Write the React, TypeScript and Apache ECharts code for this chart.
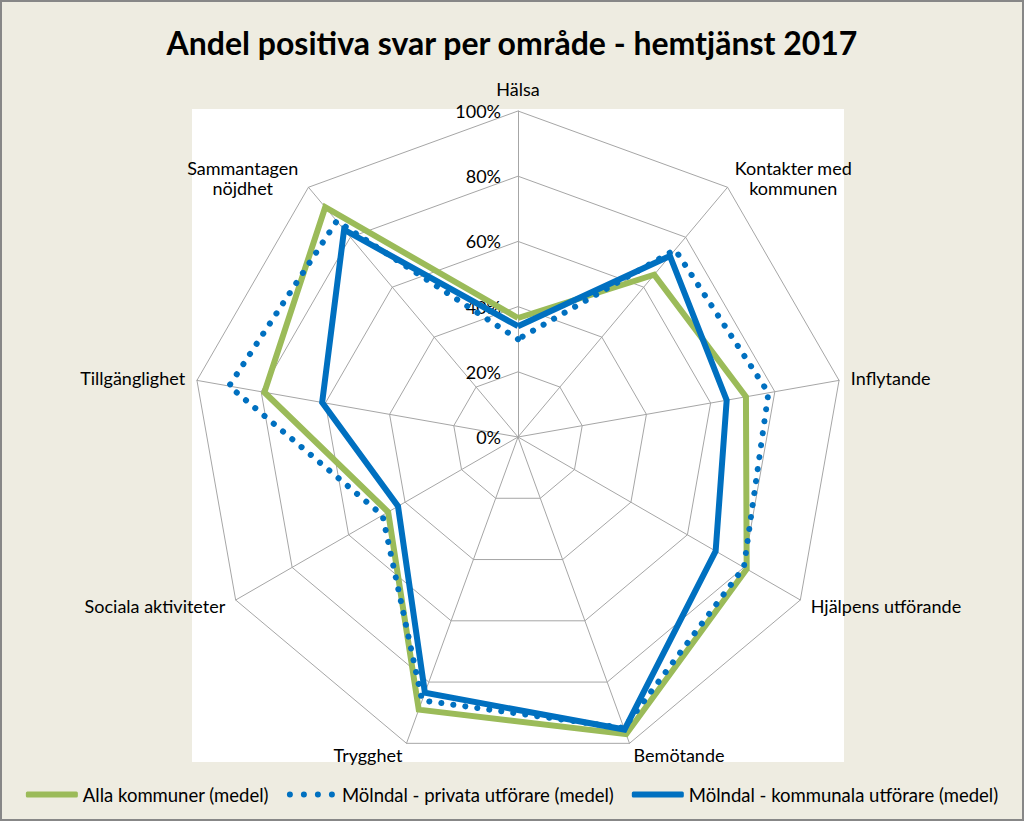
import React, { useEffect, useRef } from 'react';
import * as echarts from 'echarts';

const chartTitle = 'Andel positiva svar per område - hemtjänst 2017';

// Categories in clockwise order starting at the top
const categories = [
  'Hälsa',
  'Kontakter med\nkommunen',
  'Inflytande',
  'Hjälpens utförande',
  'Bemötande',
  'Trygghet',
  'Sociala aktiviteter',
  'Tillgänglighet',
  'Sammantagen\nnöjdhet',
];

const seriesNames = [
  'Alla kommuner (medel)',
  'Mölndal - privata utförare (medel)',
  'Mölndal - kommunala utförare (medel)',
];

const allaKommuner = [36.5, 65, 71, 81, 97, 89, 46, 79, 92];
const privataUtforare = [30, 75, 78, 80, 95, 86, 48, 90, 86.5];
const kommunalaUtforare = [34, 72.5, 65, 70, 95.5, 83.5, 42.5, 61, 83];

const axisMax = 100;
const axisSplits = 5;

const dotsIcon =
  'path://M0,3a3,3 0 1,0 6,0a3,3 0 1,0 -6,0zM14,3a3,3 0 1,0 6,0a3,3 0 1,0 -6,0zM28,3a3,3 0 1,0 6,0a3,3 0 1,0 -6,0zM42,3a3,3 0 1,0 6,0a3,3 0 1,0 -6,0z';

export default function App() {
  const ref = useRef<HTMLDivElement>(null);

  useEffect(() => {
    if (!ref.current) return;
    const chart = echarts.init(ref.current, null, { renderer: 'svg' });

    // ECharts places indicators counter-clockwise; reorder so the picture runs clockwise.
    const n = categories.length;
    const order = [0, ...Array.from({ length: n - 1 }, (_, i) => n - 1 - i)];
    const reorder = (arr: number[]) => order.map((i) => arr[i]);

    const font = 'Lato, "Open Sans", sans-serif';

    const indicator = order.map((i, k) => {
      const ind: any = { name: categories[i], min: 0, max: axisMax };
      if (k === 0) {
        ind.axisLabel = {
          show: true,
          formatter: '{value}%',
          color: '#000',
          fontSize: 18,
          fontFamily: font,
          margin: 17,
        };
      }
      return ind;
    });

    chart.setOption({
      animation: false,
      backgroundColor: '#eeece1',
      color: ['#9bbb59', '#0070c0', '#0070c0'],
      title: {
        text: chartTitle,
        left: 'center',
        top: 21,
        textStyle: {
          fontFamily: font,
          fontWeight: 'bold',
          fontSize: 32,
          color: '#000',
        },
      },
      graphic: [
        {
          type: 'rect',
          z: -1,
          silent: true,
          shape: { x: 1, y: 1, width: 1022, height: 819 },
          style: { fill: '#eeece1', stroke: '#878787', lineWidth: 2 },
        },
        {
          type: 'rect',
          z: -1,
          silent: true,
          shape: { x: 192, y: 109, width: 652, height: 653 },
          style: { fill: '#ffffff' },
        },
      ],
      legend: {
        bottom: 12,
        left: 'center',
        itemWidth: 52,
        itemHeight: 6,
        itemGap: 18,
        textStyle: { fontFamily: font, fontSize: 18.5, color: '#000' },
        data: [
          { name: seriesNames[0], icon: 'roundRect' },
          { name: seriesNames[1], icon: dotsIcon },
          { name: seriesNames[2], icon: 'roundRect' },
        ],
      },
      radar: {
        center: [518, 437],
        radius: 326,
        startAngle: 90,
        splitNumber: axisSplits,
        shape: 'polygon',
        indicator,
        nameGap: 12,
        axisName: {
          color: '#000',
          fontSize: 18,
          fontFamily: font,
          lineHeight: 20,
          formatter: (name: string) =>
            name.includes('\n')
              ? name
                  .split('\n')
                  .map((l) => `{c|${l}}`)
                  .join('\n')
              : name,
          rich: {
            c: {
              width: 116,
              align: 'center',
              fontSize: 18,
              fontFamily: font,
              color: '#000',
              lineHeight: 20,
            },
          },
        },
        splitLine: { lineStyle: { color: '#a6a6a6', width: 1 } },
        splitArea: { show: false },
        axisLine: { lineStyle: { color: '#a6a6a6', width: 1 } },
        axisTick: { show: false },
        axisLabel: { show: false },
      },
      series: [
        {
          type: 'radar',
          symbol: 'none',
          data: [
            {
              name: seriesNames[0],
              value: reorder(allaKommuner),
              lineStyle: { color: '#9bbb59', width: 6, join: 'miter' },
              itemStyle: { color: '#9bbb59' },
            },
            {
              name: seriesNames[1],
              value: reorder(privataUtforare),
              lineStyle: { color: '#0070c0', width: 6, type: [0.1, 12], cap: 'round' },
              itemStyle: { color: '#0070c0' },
            },
            {
              name: seriesNames[2],
              value: reorder(kommunalaUtforare),
              lineStyle: { color: '#0070c0', width: 6, join: 'miter' },
              itemStyle: { color: '#0070c0' },
            },
          ],
        },
      ],
    });

    return () => chart.dispose();
  }, []);

  return (
    <div
      ref={ref}
      style={{ position: 'absolute', left: 0, top: 0, width: 1024, height: 821 }}
    />
  );
}
